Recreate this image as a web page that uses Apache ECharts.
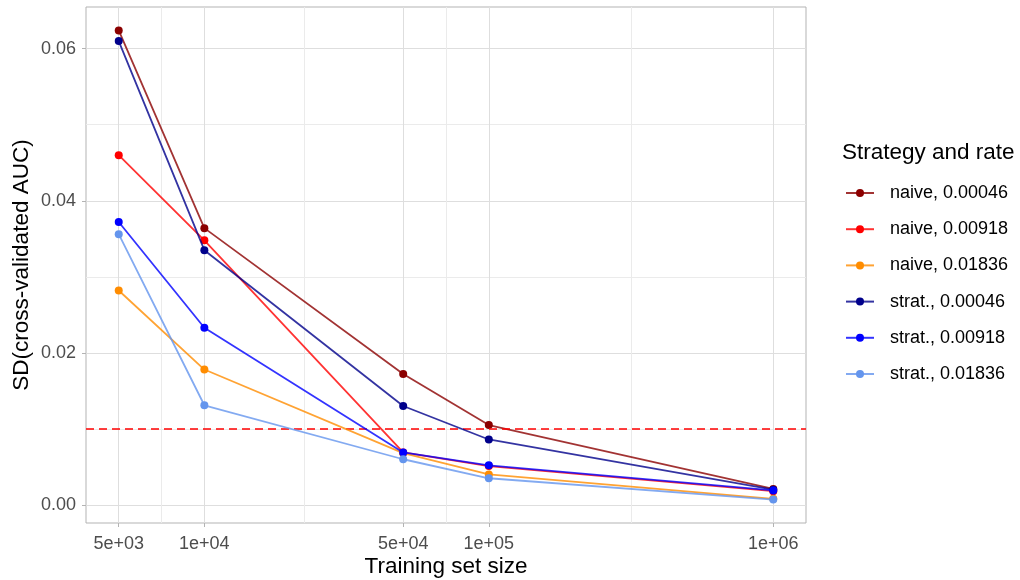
<!DOCTYPE html>
<html>
<head>
<meta charset="utf-8">
<script src="https://cdn.jsdelivr.net/npm/echarts@6/dist/echarts.min.js"></script>
<style>
  html, body { margin: 0; padding: 0; background: #fff; }
  #chart { width: 1020px; height: 580px; }
</style>
</head>
<body>
<div id="chart"></div>
<script>
// Training set sizes (x, log scale) and SD of cross-validated AUC per strategy/rate
const sizes = [5000, 10000, 50000, 100000, 1000000];
const sizeLabels = ['5e+03', '1e+04', '5e+04', '1e+05', '1e+06'];
const seriesNames = ['naive, 0.00046', 'naive, 0.00918', 'naive, 0.01836',
                     'strat., 0.00046', 'strat., 0.00918', 'strat., 0.01836'];
const naive00046 = [0.0624, 0.0364, 0.0172, 0.0105, 0.0021];
const naive00918 = [0.0460, 0.0348, 0.0069, 0.0051, 0.0018];
const naive01836 = [0.0282, 0.0178, 0.0068, 0.0040, 0.0008];
const strat00046 = [0.0610, 0.0335, 0.0130, 0.0086, 0.0020];
const strat00918 = [0.0372, 0.0233, 0.0069, 0.0052, 0.0019];
const strat01836 = [0.0356, 0.0131, 0.0060, 0.0035, 0.0007];
const yTicks = [0, 0.02, 0.04, 0.06];
const yMinor = [0.01, 0.03, 0.05];
const threshold = 0.01;

const colors = ['#8B0000', '#FF0000', '#FF8C00', '#00008B', '#0000FF', '#6495ED'];
const values = [naive00046, naive00918, naive01836, strat00046, strat00918, strat01836];

const logX = sizes.map(v => Math.log10(v));
// log-midpoints between major x breaks
const xMinor = logX.slice(1).map((v, i) => (v + logX[i]) / 2);

// 5% expansion on both axes
const xr = logX[logX.length - 1] - logX[0];
const xMin = logX[0] - 0.05 * xr, xMax = logX[logX.length - 1] + 0.05 * xr;
const all = values.flat();
const yLo = Math.min(...all), yHi = Math.max(...all);
const yr = yHi - yLo;
const yMin = yLo - 0.05 * yr, yMax = yHi + 0.05 * yr;

const FONT = 'Liberation Sans, Arial, sans-serif';
const gridMajor = '#DEDEDE';
const gridMinor = '#EBEBEB';
const TITLE_SIZE = 22.5;
const TEXT_SIZE = 18;

function xLabel(v) {
  let best = 0;
  logX.forEach((lv, i) => { if (Math.abs(lv - v) < Math.abs(logX[best] - v)) best = i; });
  return sizeLabels[best];
}

const chart = echarts.init(document.getElementById('chart'), null, { renderer: 'canvas' });

const series = values.map((arr, i) => ({
  name: seriesNames[i],
  type: 'line',
  xAxisIndex: 0,
  yAxisIndex: 0,
  data: arr.map((v, j) => [logX[j], v]),
  symbol: 'circle',
  symbolSize: 8,
  showSymbol: true,
  color: colors[i],
  itemStyle: { color: colors[i], opacity: 1 },
  lineStyle: { color: colors[i], width: 1.8, opacity: 0.8 },
  emphasis: { disabled: true },
  animation: false,
  z: 3 + i
}));

series.push({
  name: 'threshold',
  type: 'line',
  data: [],
  markLine: {
    silent: true,
    symbol: 'none',
    label: { show: false },
    lineStyle: { color: '#FF0000', width: 1.7, type: [8, 5] },
    data: [{ yAxis: threshold }],
    animation: false
  },
  z: 10
});

chart.setOption({
  animation: false,
  backgroundColor: '#FFFFFF',
  textStyle: { fontFamily: FONT },
  title: {
    text: 'Strategy and rate',
    left: 842,
    top: 141,
    padding: 0,
    textStyle: { fontFamily: FONT, fontSize: TITLE_SIZE, fontWeight: 'normal', color: '#000' }
  },
  legend: {
    data: seriesNames,
    orient: 'vertical',
    left: 845,
    top: 184,
    padding: 0,
    itemWidth: 28,
    itemHeight: 10,
    itemGap: 18.2,
    textStyle: { fontFamily: FONT, fontSize: TEXT_SIZE, color: '#000', padding: [0, 0, 0, 11] },
    selectedMode: false
  },
  grid: {
    left: 86, right: 214, top: 7, bottom: 57,
    outerBoundsMode: 'none',
    containLabel: false,
    show: true, borderColor: '#B3B3B3', borderWidth: 1, backgroundColor: 'transparent'
  },
  xAxis: [{
    type: 'value', min: xMin, max: xMax,
    name: 'Training set size', nameLocation: 'middle', nameGap: 32, nameMoveOverlap: false,
    nameTextStyle: { fontFamily: FONT, fontSize: TITLE_SIZE, color: '#000' },
    axisLine: { show: false, onZero: false },
    axisTick: { show: true, length: 4, lineStyle: { color: '#B3B3B3' }, customValues: logX },
    axisLabel: { customValues: logX, formatter: xLabel, fontFamily: FONT, fontSize: TEXT_SIZE, color: '#4D4D4D', margin: 12 },
    splitLine: { show: true, lineStyle: { color: gridMajor, width: 1 } }
  }, {
    type: 'value', min: xMin, max: xMax, position: 'bottom',
    axisLine: { show: false, onZero: false },
    axisTick: { show: false, customValues: xMinor },
    axisLabel: { show: false },
    splitLine: { show: true, lineStyle: { color: gridMinor, width: 1 } }
  }],
  yAxis: [{
    type: 'value', min: yMin, max: yMax,
    name: 'SD(cross-validated AUC)', nameLocation: 'middle', nameGap: 53, nameMoveOverlap: false,
    nameTextStyle: { fontFamily: FONT, fontSize: TITLE_SIZE, color: '#000' },
    axisLine: { show: false, onZero: false },
    axisTick: { show: true, length: 4, lineStyle: { color: '#B3B3B3' }, customValues: yTicks },
    axisLabel: { customValues: yTicks, formatter: v => v.toFixed(2), fontFamily: FONT, fontSize: TEXT_SIZE, color: '#4D4D4D', margin: 10 },
    splitLine: { show: true, lineStyle: { color: gridMajor, width: 1 } }
  }, {
    type: 'value', min: yMin, max: yMax, position: 'left',
    axisLine: { show: false, onZero: false },
    axisTick: { show: false, customValues: yMinor },
    axisLabel: { show: false },
    splitLine: { show: true, lineStyle: { color: gridMinor, width: 1 } }
  }],
  series: series
});
</script>
</body>
</html>
